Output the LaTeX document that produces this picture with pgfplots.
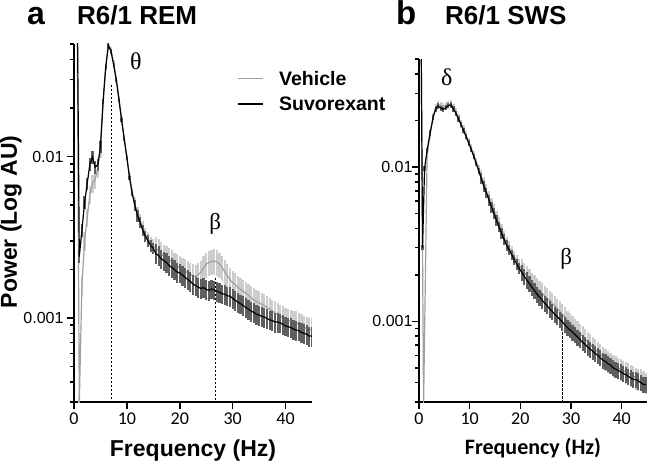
\documentclass[border=0pt]{standalone}
\usepackage{fontspec}
\setmainfont{Liberation Sans}
\newfontfamily\carlito{Carlito}
\newfontfamily\grk{Liberation Serif}
\usepackage{pgfplots}
\pgfplotsset{compat=1.18}
\usepackage{pgfplotstable}
\definecolor{vehline}{RGB}{160,160,160}
\definecolor{vehbar}{RGB}{205,205,205}
\definecolor{suvbar}{RGB}{95,95,95}

\pgfplotstableread{
x y
0.5 0.3
1.0 0.0024
1.5 0.0035
2.0 0.0052
2.5 0.0068
3.0 0.0090
3.5 0.0099
4.0 0.0086
4.5 0.0089
5.0 0.0115
5.5 0.0220
6.0 0.0360
6.5 0.0490
7.0 0.0450
7.5 0.0370
8.0 0.0300
8.5 0.0225
9.0 0.0168
9.5 0.0128
10.0 0.0098
10.5 0.0074
11.0 0.0059
11.5 0.0050
12.0 0.0043
12.5 0.0039
13.0 0.0035
13.5 0.0032
14.0 0.0030
14.5 0.0028
15.0 0.0027
15.5 0.0025
16.0 0.00243
16.5 0.00232
17.0 0.00226
17.5 0.0022
18.0 0.00211
18.5 0.00205
19.0 0.00199
19.5 0.00192
20.0 0.0019
20.5 0.00184
21.0 0.00178
21.5 0.00173
22.0 0.00168
22.5 0.00162
23.0 0.00158
23.5 0.00155
24.0 0.00152
24.5 0.00154
25.0 0.00150
25.5 0.00148
26.0 0.00151
26.5 0.00149
27.0 0.00146
27.5 0.00144
28.0 0.00141
28.5 0.00140
29.0 0.00137
29.5 0.00136
30.0 0.00132
30.5 0.00128
31.0 0.00125
31.5 0.00122
32.0 0.00119
32.5 0.00116
33.0 0.00113
33.5 0.00110
34.0 0.00108
34.5 0.00105
35.0 0.00104
35.5 0.00102
36.0 0.00101
36.5 0.00099
37.0 0.00097
37.5 0.00096
38.0 0.00094
38.5 0.00094
39.0 0.00093
39.5 0.00091
40.0 0.00089
40.5 0.00088
41.0 0.00087
41.5 0.00085
42.0 0.00084
42.5 0.00083
43.0 0.00081
43.5 0.00080
44.0 0.00079
44.5 0.00077
45.0 0.00077
}\suvA

\pgfplotstableread{
x y
0.5 0.3
1.0 0.00029
1.5 0.0016
2.0 0.0030
2.5 0.0042
3.0 0.0058
3.5 0.0068
4.0 0.0072
4.5 0.0085
5.0 0.0112
5.5 0.0215
6.0 0.0360
6.5 0.0500
7.0 0.0460
7.5 0.0380
8.0 0.0300
8.5 0.0230
9.0 0.0172
9.5 0.0131
10.0 0.0100
10.5 0.0076
11.0 0.0061
11.5 0.0051
12.0 0.0044
12.5 0.0040
13.0 0.0036
13.5 0.0033
14.0 0.0031
14.5 0.0029
15.0 0.0028
15.5 0.0027
16.0 0.0026
16.5 0.0025
17.0 0.0024
17.5 0.00235
18.0 0.0023
18.5 0.00222
19.0 0.00215
19.5 0.0021
20.0 0.00205
20.5 0.0020
21.0 0.00195
21.5 0.0019
22.0 0.00186
22.5 0.00182
23.0 0.0018
23.5 0.00185
24.0 0.00192
24.5 0.00205
25.0 0.00215
25.5 0.0022
26.0 0.00224
26.5 0.00225
27.0 0.00222
27.5 0.00215
28.0 0.00205
28.5 0.00193
29.0 0.00182
29.5 0.00172
30.0 0.00165
30.5 0.0016
31.0 0.00154
31.5 0.0015
32.0 0.00146
32.5 0.00142
33.0 0.00138
33.5 0.00133
34.0 0.00129
34.5 0.00126
35.0 0.00124
35.5 0.00121
36.0 0.00119
36.5 0.00116
37.0 0.00113
37.5 0.0011
38.0 0.00107
38.5 0.00105
39.0 0.00102
39.5 0.0010
40.0 0.00098
40.5 0.00096
41.0 0.00095
41.5 0.00094
42.0 0.00093
42.5 0.00091
43.0 0.00089
43.5 0.00087
44.0 0.00086
44.5 0.00085
45.0 0.00084
}\vehA

\pgfplotstableread{
x y
0.3 0.3
0.7 0.0030
1.1 0.0098
1.6 0.0128
2.2 0.0166
2.8 0.0210
3.3 0.0238
3.8 0.0248
4.3 0.0240
4.8 0.0236
5.3 0.0242
5.8 0.0250
6.3 0.0252
6.8 0.0238
7.3 0.0222
7.8 0.0204
8.3 0.0188
8.8 0.0172
9.3 0.0157
9.8 0.0143
10.3 0.0130
10.8 0.0117
11.3 0.0105
11.8 0.0094
12.3 0.0084
12.8 0.0075
13.3 0.0068
13.8 0.0061
14.3 0.0055
14.8 0.0050
15.3 0.0045
15.8 0.0041
16.3 0.0037
16.8 0.0034
17.3 0.0031
17.8 0.0029
18.3 0.0027
18.8 0.0025
19.3 0.00235
19.8 0.0022
20.3 0.00207
20.8 0.00195
21.3 0.00185
21.8 0.00175
22.3 0.00166
22.8 0.00158
23.3 0.0015
23.8 0.00143
24.3 0.00137
24.8 0.00131
25.3 0.00126
25.8 0.0012
26.3 0.00116
26.8 0.00111
27.3 0.00107
27.8 0.00103
28.3 0.00099
28.8 0.00095
29.3 0.00091
29.8 0.00088
30.3 0.00085
30.8 0.00082
31.3 0.00079
31.8 0.00076
32.3 0.00073
32.8 0.00071
33.3 0.00068
33.8 0.00066
34.3 0.00064
34.8 0.00062
35.3 0.0006
35.8 0.00058
36.3 0.00056
36.8 0.00055
37.3 0.00053
37.8 0.00052
38.3 0.0005
38.8 0.00049
39.3 0.00048
39.8 0.00047
40.3 0.00046
40.8 0.00045
41.3 0.00044
41.8 0.00043
42.3 0.00042
42.8 0.00042
43.3 0.00041
43.8 0.0004
44.3 0.00039
44.8 0.00039
}\suvB

\pgfplotstableread{
x y
0.3 0.3
0.9 0.00028
1.6 0.0120
2.2 0.0162
2.8 0.0212
3.3 0.0242
3.8 0.0254
4.3 0.0250
4.8 0.0246
5.3 0.0250
5.8 0.0254
6.3 0.0255
6.8 0.0242
7.3 0.0226
7.8 0.0208
8.3 0.0191
8.8 0.0175
9.3 0.0160
9.8 0.0146
10.3 0.0133
10.8 0.0120
11.3 0.0108
11.8 0.0097
12.3 0.0087
12.8 0.0078
13.3 0.0070
13.8 0.0063
14.3 0.0057
14.8 0.0052
15.3 0.0047
15.8 0.0043
16.3 0.0039
16.8 0.0035
17.3 0.0032
17.8 0.0030
18.3 0.0028
18.8 0.0026
19.3 0.00245
19.8 0.0023
20.3 0.00218
20.8 0.00206
21.3 0.00196
21.8 0.00187
22.3 0.00178
22.8 0.00171
23.3 0.00164
23.8 0.00158
24.3 0.00152
24.8 0.00146
25.3 0.00141
25.8 0.00136
26.3 0.00131
26.8 0.00126
27.3 0.00121
27.8 0.00116
28.3 0.00111
28.8 0.00106
29.3 0.00101
29.8 0.00097
30.3 0.00093
30.8 0.00089
31.3 0.00086
31.8 0.00083
32.3 0.0008
32.8 0.00077
33.3 0.00074
33.8 0.00071
34.3 0.00068
34.8 0.00066
35.3 0.00063
35.8 0.00061
36.3 0.00059
36.8 0.00057
37.3 0.00055
37.8 0.00054
38.3 0.00052
38.8 0.00051
39.3 0.0005
39.8 0.00049
40.3 0.00048
40.8 0.00047
41.3 0.00046
41.8 0.00045
42.3 0.00044
42.8 0.00043
43.3 0.00042
43.8 0.00042
44.3 0.00041
44.8 0.0004
}\vehB

\begin{document}
\begin{tikzpicture}
\path[use as bounding box] (0,0) rectangle (649pt,463pt);
\node[anchor=base west, inner sep=0pt] at (27pt,438pt) {\fontsize{32}{32}\selectfont\bfseries a};
\node[anchor=base west, inner sep=0pt] at (77pt,438pt) {\fontsize{26}{26}\selectfont\bfseries R6/1 REM};
\node[anchor=base west, inner sep=0pt] at (396pt,438pt) {\fontsize{33}{33}\selectfont\bfseries b};
\node[anchor=base west, inner sep=0pt] at (445pt,438pt) {\fontsize{26}{26}\selectfont\bfseries R6/1 SWS};

\begin{axis}[
  scale only axis, at={(74pt,61pt)}, anchor=south west, width=238pt, height=358pt,
  axis lines=left, axis line style={-, line width=1.8pt},
  xmin=0, xmax=45, ymode=log, ymin=0.0003, ymax=0.05,
  xtick={0,10,20,30,40}, xticklabels={0,10,20,30,40},
  ytick={0.001,0.01}, yticklabels={0.001,0.01},
  minor ytick={0.0003,0.0004,0.0005,0.0006,0.0007,0.0008,0.0009,0.002,0.003,0.004,0.005,0.006,0.007,0.008,0.009,0.02,0.03,0.04,0.05},
  tick align=outside, major tick length=7pt, minor tick length=4pt,
  tick style={black, line width=1.5pt},
  xticklabel style={font=\carlito\fontsize{18}{18}\selectfont},
  yticklabel style={font=\fontsize{16}{16}\selectfont},
  xlabel={Frequency (Hz)}, ylabel={Power (Log AU)},
  xlabel style={font=\bfseries\fontsize{23}{23}\selectfont, at={(axis description cs:0.5,-0.1536)}, anchor=base},
  ylabel style={font=\bfseries\fontsize{23}{23}\selectfont, at={(axis description cs:-0.2395,0.503)}, anchor=base},
  legend style={draw=none, fill=none, at={(axis description cs:0.675,0.9366)}, anchor=north west,
    font=\bfseries\fontsize{19.5}{19.5}\selectfont, row sep=6pt, column sep=13pt},
  legend cell align=left,
  legend image code/.code={\draw[#1] (0pt,0pt) -- (25pt,0pt);},
]
% Vehicle SEM bars
\addplot[forget plot, draw=none, mark=none, restrict x to domain=0:5.2, error bars/y dir=both, error bars/y fixed relative=0.13, error bars/error mark=none, error bars/error bar style={draw=vehbar, line width=2.2pt, solid}] table {\vehA};
\addplot[forget plot, draw=none, mark=none, restrict x to domain=5.3:11.2, error bars/y dir=both, error bars/y fixed relative=0.04, error bars/error mark=none, error bars/error bar style={draw=vehbar, line width=2.2pt, solid}] table {\vehA};
\addplot[forget plot, draw=none, mark=none, restrict x to domain=11.3:15.2, error bars/y dir=both, error bars/y fixed relative=0.10, error bars/error mark=none, error bars/error bar style={draw=vehbar, line width=2.2pt, solid}] table {\vehA};
\addplot[forget plot, draw=none, mark=none, restrict x to domain=15.3:45, error bars/y dir=both, error bars/y fixed relative=0.18, error bars/error mark=none, error bars/error bar style={draw=vehbar, line width=2.2pt, solid}] table {\vehA};
\addplot[vehline, line width=1.2pt, forget plot] table {\vehA};
% Suvorexant SEM bars
\addplot[forget plot, draw=none, mark=none, restrict x to domain=0:5.2, error bars/y dir=both, error bars/y fixed relative=0.09, error bars/error mark=none, error bars/error bar style={draw=suvbar, line width=2.2pt, solid}] table {\suvA};
\addplot[forget plot, draw=none, mark=none, restrict x to domain=5.3:11.2, error bars/y dir=both, error bars/y fixed relative=0.03, error bars/error mark=none, error bars/error bar style={draw=suvbar, line width=2.2pt, solid}] table {\suvA};
\addplot[forget plot, draw=none, mark=none, restrict x to domain=11.3:15.2, error bars/y dir=both, error bars/y fixed relative=0.08, error bars/error mark=none, error bars/error bar style={draw=suvbar, line width=2.2pt, solid}] table {\suvA};
\addplot[forget plot, draw=none, mark=none, restrict x to domain=15.3:45, error bars/y dir=both, error bars/y fixed relative=0.14, error bars/error mark=none, error bars/error bar style={draw=suvbar, line width=2.2pt, solid}] table {\suvA};
\addplot[black, line width=1.2pt, forget plot] table {\suvA};
\addplot[black, line width=1.6pt, dash pattern=on 2.5pt off 1.5pt, forget plot] coordinates {(7.1,0.028) (7.1,0.0003)};
\addplot[black, line width=1pt, dash pattern=on 2.5pt off 1.5pt, forget plot] coordinates {(26.7,0.00177) (26.7,0.0003)};
\addlegendimage{vehline, line width=1.3pt}
\addlegendentry{Vehicle}
\addlegendimage{black, line width=1.3pt}
\addlegendentry{Suvorexant}
\node[font=\grk\fontsize{24}{24}\selectfont] at (axis cs:11.7,0.039) {θ};
\node[font=\grk\fontsize{23}{23}\selectfont] at (axis cs:26.7,0.0038) {β};
\end{axis}

\begin{axis}[
  scale only axis, at={(419pt,61pt)}, anchor=south west, width=228pt, height=343pt,
  axis lines=left, axis line style={-, line width=1.8pt},
  xmin=0, xmax=45, ymode=log, ymin=0.0003, ymax=0.05,
  xtick={0,10,20,30,40}, xticklabels={0,10,20,30,40},
  ytick={0.001,0.01}, yticklabels={0.001,0.01},
  minor ytick={0.0003,0.0004,0.0005,0.0006,0.0007,0.0008,0.0009,0.002,0.003,0.004,0.005,0.006,0.007,0.008,0.009,0.02,0.03,0.04,0.05},
  tick align=outside, major tick length=7pt, minor tick length=4pt,
  tick style={black, line width=1.5pt},
  xticklabel style={font=\carlito\fontsize{18}{18}\selectfont},
  yticklabel style={font=\fontsize{16}{16}\selectfont, xshift=4pt},
  xlabel={Frequency (Hz)},
  xlabel style={font=\carlito\bfseries\fontsize{22}{22}\selectfont, at={(axis description cs:0.5,-0.1545)}, anchor=base},
]
\addplot[forget plot, draw=none, mark=none, restrict x to domain=0:12, error bars/y dir=both, error bars/y fixed relative=0.06, error bars/error mark=none, error bars/error bar style={draw=vehbar, line width=2.2pt, solid}] table {\vehB};
\addplot[forget plot, draw=none, mark=none, restrict x to domain=12.1:20, error bars/y dir=both, error bars/y fixed relative=0.10, error bars/error mark=none, error bars/error bar style={draw=vehbar, line width=2.2pt, solid}] table {\vehB};
\addplot[forget plot, draw=none, mark=none, restrict x to domain=20.1:45, error bars/y dir=both, error bars/y fixed relative=0.16, error bars/error mark=none, error bars/error bar style={draw=vehbar, line width=2.2pt, solid}] table {\vehB};
\addplot[vehline, line width=1.2pt, forget plot] table {\vehB};
\addplot[forget plot, draw=none, mark=none, restrict x to domain=0:12, error bars/y dir=both, error bars/y fixed relative=0.04, error bars/error mark=none, error bars/error bar style={draw=suvbar, line width=2.2pt, solid}] table {\suvB};
\addplot[forget plot, draw=none, mark=none, restrict x to domain=12.1:20, error bars/y dir=both, error bars/y fixed relative=0.08, error bars/error mark=none, error bars/error bar style={draw=suvbar, line width=2.2pt, solid}] table {\suvB};
\addplot[forget plot, draw=none, mark=none, restrict x to domain=20.1:45, error bars/y dir=both, error bars/y fixed relative=0.12, error bars/error mark=none, error bars/error bar style={draw=suvbar, line width=2.2pt, solid}] table {\suvB};
\addplot[black, line width=1.2pt, forget plot] table {\suvB};
\addplot[black, line width=1pt, dash pattern=on 2.5pt off 1.5pt, forget plot] coordinates {(28.3,0.00085) (28.3,0.0003)};
\node[font=\grk\fontsize{24}{24}\selectfont] at (axis cs:5.5,0.0382) {δ};
\node[font=\grk\fontsize{23}{23}\selectfont] at (axis cs:29.05,0.00254) {β};
\end{axis}
\end{tikzpicture}
\end{document}
